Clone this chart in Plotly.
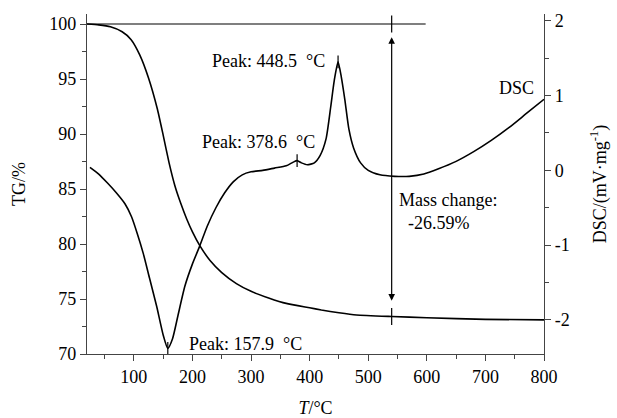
import plotly.graph_objects as go

# ---- data ----
tg_T = [20, 40, 60, 80, 95, 110, 125, 140, 150, 160, 170, 180, 190, 200, 212,
        230, 250, 275, 300, 330, 360, 400, 420, 450, 480, 540, 600, 700, 800]
tg_val = [100.0, 99.92, 99.75, 99.3, 98.6, 97.2, 95.1, 92.3, 89.9, 87.4,
          85.3, 83.7, 82.3, 81.1, 79.9, 78.5, 77.4, 76.4, 75.7, 75.1, 74.6, 74.2, 74.0,
          73.75, 73.55, 73.41, 73.3, 73.15, 73.1]

dsc_T = [25, 40, 55, 70, 85, 96, 106, 116, 127, 139, 150, 157.9, 166, 175, 187, 200,
         212, 225, 240, 255, 270, 285, 300, 320, 340, 360, 372, 378.6, 386, 396, 408,
         418, 428, 436, 442, 448.5, 454, 460, 467, 475, 487, 500, 520, 545, 570, 595,
         620, 650, 680, 710, 740, 770, 800]
dsc_val = [0.04, -0.05, -0.17, -0.30, -0.45, -0.62, -0.85, -1.11, -1.45, -1.82, -2.2,
           -2.38, -2.25, -1.95, -1.55, -1.25, -1.02, -0.75, -0.5, -0.3, -0.15, -0.06,
           -0.02, 0.0, 0.03, 0.06, 0.11, 0.13, 0.1, 0.075, 0.1, 0.2, 0.42, 0.85, 1.2,
           1.45, 1.25, 0.95, 0.55, 0.3, 0.1, 0.0, -0.06, -0.08, -0.08, -0.05, 0.02,
           0.12, 0.25, 0.4, 0.57, 0.76, 0.95]

peak_T = [157.9, 378.6, 448.5]
peak_dsc = [-2.38, 0.13, 1.45]
peak_labels = ["Peak: 157.9\u00a0\u00a0°C", "Peak: 378.6\u00a0\u00a0°C", "Peak: 448.5\u00a0\u00a0°C"]

dsc_tickvals = [-2, -1, 0, 1, 2]
dsc_ticktext = ["-2", "-1", "0", "1", "2"]

ref_T = [20, 598]
ref_tg = [100, 100]
mass_T = 540
mass_start = 100
mass_end = 73.41
mass_label = ["Mass change:", "-26.59%"]

FONT = "Liberation Serif"
FS = 18
ink = "black"
axc = "#444444"

fig = go.Figure()
fig.add_trace(go.Scatter(x=tg_T, y=tg_val, mode="lines", line=dict(color=ink, width=1.6, shape="spline", smoothing=0.5),
                         yaxis="y", hoverinfo="skip", showlegend=False))
fig.add_trace(go.Scatter(x=dsc_T, y=dsc_val, mode="lines", line=dict(color=ink, width=1.6, shape="spline", smoothing=0.6),
                         yaxis="y2", hoverinfo="skip", showlegend=False))
# reference line at 100 %
fig.add_trace(go.Scatter(x=ref_T, y=ref_tg, mode="lines", line=dict(color=ink, width=1.2),
                         yaxis="y", hoverinfo="skip", showlegend=False))
# small tick marks at the peaks
fig.add_trace(go.Scatter(x=peak_T, y=peak_dsc, mode="markers", yaxis="y2",
                         marker=dict(symbol="line-ns", size=9, line=dict(color=ink, width=1.2)),
                         hoverinfo="skip", showlegend=False))
# tick marks at the ends of the mass change arrow
fig.add_trace(go.Scatter(x=[mass_T, mass_T], y=[mass_start, mass_end], mode="markers", yaxis="y",
                         marker=dict(symbol="line-ns", size=12, line=dict(color=ink, width=1.2)),
                         hoverinfo="skip", showlegend=False))

ann = []
# double-headed arrow
ann.append(dict(x=mass_T, y=mass_start - 1.2, ax=mass_T, ay=mass_end + 1.3, xref="x", yref="y",
                axref="x", ayref="y", text="", showarrow=True, arrowhead=2, arrowside="end+start",
                arrowsize=1.1, arrowwidth=1.2, arrowcolor=ink))
ann.append(dict(x=mass_T + 9, y=84.0, xref="x", yref="y", text=mass_label[0], showarrow=False,
                xanchor="left", yanchor="middle", font=dict(family=FONT, size=FS, color=ink)))
ann.append(dict(x=mass_T + 24, y=81.9, xref="x", yref="y", text=mass_label[1], showarrow=False,
                xanchor="left", yanchor="middle", font=dict(family=FONT, size=FS, color=ink)))
ann.append(dict(x=190, y=70.9, xref="x", yref="y", text=peak_labels[0], showarrow=False,
                xanchor="left", yanchor="middle", font=dict(family=FONT, size=FS, color=ink)))
ann.append(dict(x=413, y=89.3, xref="x", yref="y", text=peak_labels[1], showarrow=False,
                xanchor="right", yanchor="middle", font=dict(family=FONT, size=FS, color=ink)))
ann.append(dict(x=430, y=96.6, xref="x", yref="y", text=peak_labels[2], showarrow=False,
                xanchor="right", yanchor="middle", font=dict(family=FONT, size=FS, color=ink)))
ann.append(dict(x=786, y=94.2, xref="x", yref="y", text="DSC", showarrow=False,
                xanchor="right", yanchor="middle", font=dict(family=FONT, size=FS, color=ink)))

common = dict(showline=True, linecolor=axc, linewidth=1.2, ticks="outside", tickcolor=axc,
              tickwidth=1.2, ticklen=6, showgrid=False, zeroline=False, automargin=False,
              tickfont=dict(family=FONT, size=FS, color=ink))

fig.update_layout(
    width=617, height=418, margin=dict(l=87, r=73, t=14, b=64),
    paper_bgcolor="white", plot_bgcolor="white",
    annotations=ann,
    xaxis=dict(range=[20, 800], tick0=0, dtick=100,
               minor=dict(ticks="outside", dtick=50, tick0=0, ticklen=4, tickcolor=axc, tickwidth=1.2),
               title=dict(text="<i>T</i>/°C", font=dict(family=FONT, size=FS, color=ink), standoff=24),
               **common),
    yaxis=dict(range=[70, 100.91], tick0=70, dtick=5,
               minor=dict(ticks="outside", dtick=2.5, tick0=70, ticklen=4, tickcolor=axc, tickwidth=1.2),
               title=dict(text="TG/%", font=dict(family=FONT, size=FS, color=ink), standoff=18),
               **common),
    yaxis2=dict(range=[-2.455, 2.09], tickmode="array", tickvals=dsc_tickvals, ticktext=dsc_ticktext,
                overlaying="y", side="right", anchor="x",
                minor=dict(ticks="outside", dtick=0.5, tick0=0, ticklen=4, tickcolor=axc, tickwidth=1.2),
                title=dict(text="DSC/(mV·mg<sup>-1</sup>)", font=dict(family=FONT, size=FS, color=ink), standoff=24),
                **common),
)

fig.write_html("out.html")
